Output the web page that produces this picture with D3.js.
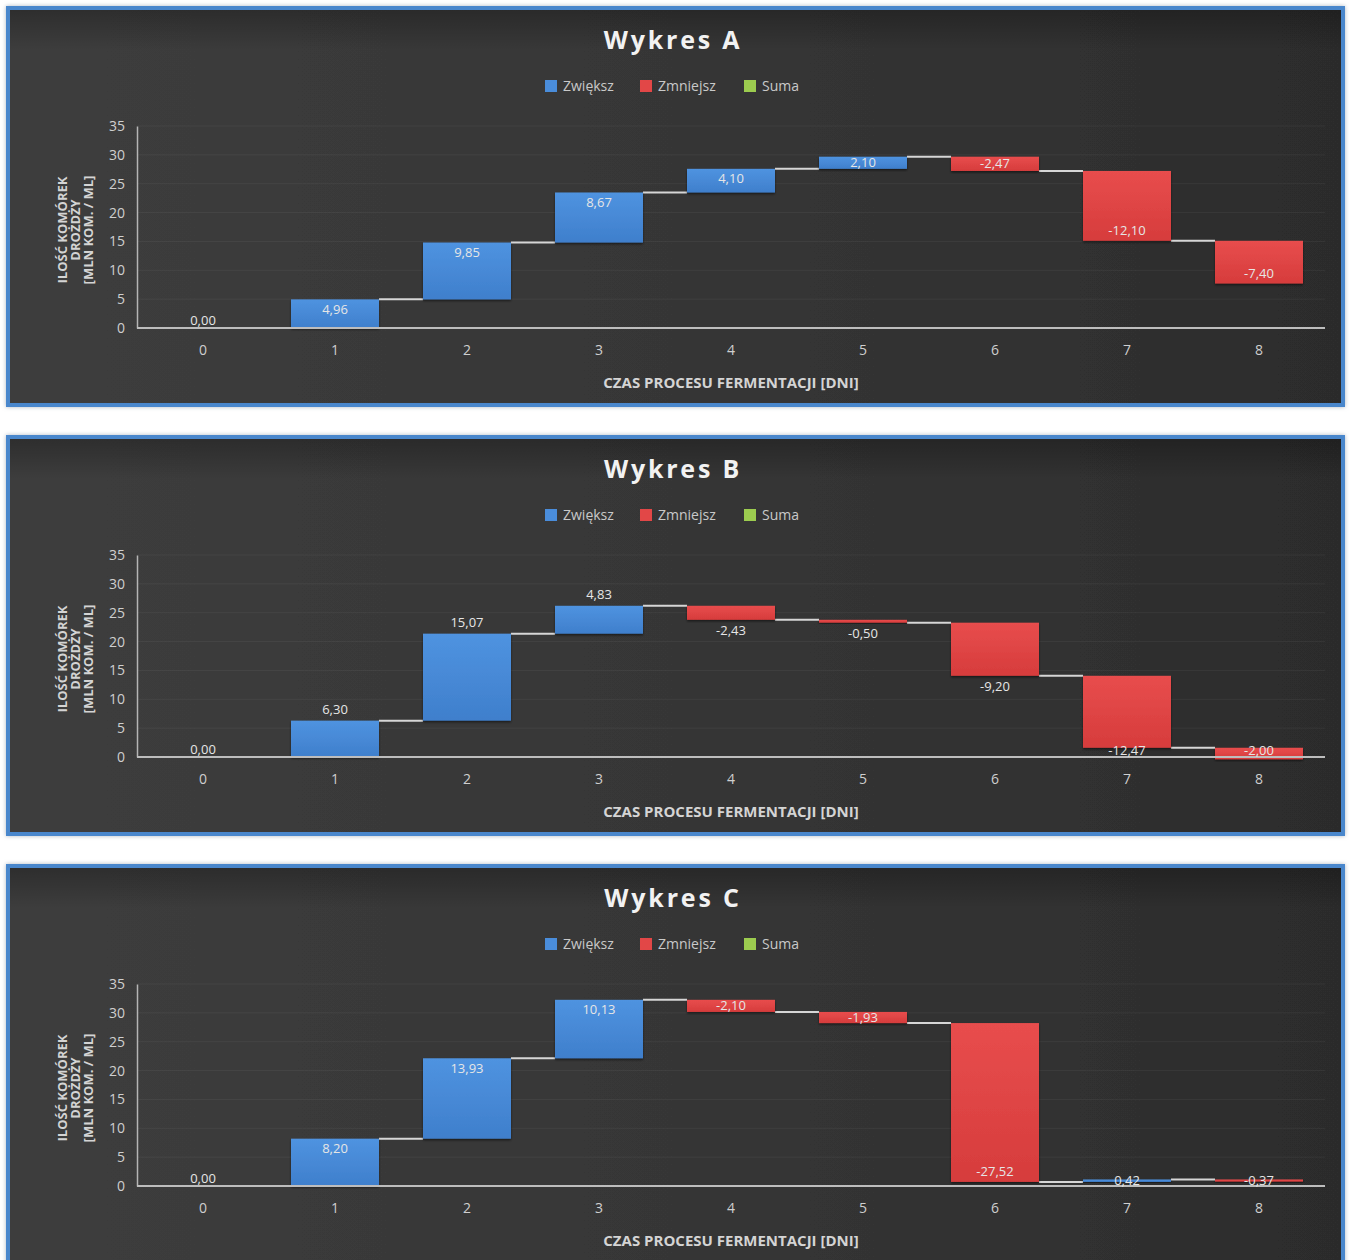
<!DOCTYPE html>
<html>
<head>
<meta charset="utf-8">
<script src="https://cdn.jsdelivr.net/npm/d3@7"></script>
<style>
  html, body { margin: 0; padding: 0; background: #ffffff; }
  svg { display: block; }
  text { font-family: "Open Sans", Lato, sans-serif; }
</style>
</head>
<body>
<svg id="chart" width="1349" height="1260"></svg>
<script>
// Fermentation days (categories)
const days = ["0", "1", "2", "3", "4", "5", "6", "7", "8"];

// Daily change in yeast cell count [mln cells / ml]
const seriesA = [0.00, 4.96, 9.85, 8.67, 4.10, 2.10, -2.47, -12.10, -7.40];
const seriesB = [0.00, 6.30, 15.07, 4.83, -2.43, -0.50, -9.20, -12.47, -2.00];
const seriesC = [0.00, 8.20, 13.93, 10.13, -2.10, -1.93, -27.52, 0.42, -0.37];

const yTicks = [0, 5, 10, 15, 20, 25, 30, 35];
const legendLabels = ["Zwiększ", "Zmniejsz", "Suma"];
const chartTitles = ["Wykres A", "Wykres B", "Wykres C"];
const yTitleLines = ["ILOŚĆ KOMÓREK", "DROŻDŻY", "[MLN KOM. / ML]"];
const xTitle = "CZAS PROCESU FERMENTACJI [DNI]";

const panels = [
  { title: chartTitles[0], values: seriesA, labelMode: "inside" },
  { title: chartTitles[1], values: seriesB, labelMode: "outside" },
  { title: chartTitles[2], values: seriesC, labelMode: "inside" }
];

const colors = { up: "#4a8ddb", down: "#e24747", total: "#9ccc4f" };
const fmt = v => d3.format(".2f")(v).replace(".", ",").replace("−", "-");

const svg = d3.select("#chart");
const defs = svg.append("defs");

const bg = defs.append("linearGradient").attr("id", "panelBg")
  .attr("x1", "0%").attr("x2", "100%").attr("y1", "0%").attr("y2", "0%");
bg.append("stop").attr("offset", "0%").attr("stop-color", "#3d3d3d");
bg.append("stop").attr("offset", "50%").attr("stop-color", "#363636");
bg.append("stop").attr("offset", "100%").attr("stop-color", "#2c2c2c");

const topShade = defs.append("linearGradient").attr("id", "topShade")
  .attr("x1", "0%").attr("x2", "0%").attr("y1", "0%").attr("y2", "100%");
topShade.append("stop").attr("offset", "0%").attr("stop-color", "#000").attr("stop-opacity", 0.25);
topShade.append("stop").attr("offset", "100%").attr("stop-color", "#000").attr("stop-opacity", 0);

function barGradient(id, light, dark) {
  const g = defs.append("linearGradient").attr("id", id)
    .attr("x1", "0%").attr("x2", "0%").attr("y1", "0%").attr("y2", "100%");
  g.append("stop").attr("offset", "0%").attr("stop-color", light);
  g.append("stop").attr("offset", "100%").attr("stop-color", dark);
}
barGradient("gUp", "#4f93e0", "#3f7fcc");
barGradient("gDown", "#e84d4d", "#d63c3c");

const shadow = defs.append("filter").attr("id", "barShadow")
  .attr("x", "-10%").attr("y", "-10%").attr("width", "120%").attr("height", "130%");
shadow.append("feDropShadow").attr("dx", 0).attr("dy", 1.5).attr("stdDeviation", 1.2)
  .attr("flood-color", "#000").attr("flood-opacity", 0.55);

const glow = defs.append("filter").attr("id", "frameGlow")
  .attr("x", "-2%").attr("y", "-5%").attr("width", "104%").attr("height", "110%");
glow.append("feDropShadow").attr("dx", 0).attr("dy", 0).attr("stdDeviation", 2)
  .attr("flood-color", "#9aa6b4").attr("flood-opacity", 0.8);

const plotLeft = 137, plotRight = 1325;

panels.forEach((p, i) => {
  const oy = 8 + i * 429;
  const g = svg.append("g");

  // frame and background
  g.append("rect").attr("x", 8).attr("y", oy).attr("width", 1335).attr("height", 397)
    .attr("fill", "url(#panelBg)").attr("stroke", "#4a87cc").attr("stroke-width", 4)
    .attr("filter", "url(#frameGlow)");
  g.append("rect").attr("x", 10).attr("y", oy + 2).attr("width", 1331).attr("height", 40)
    .attr("fill", "url(#topShade)");

  // title
  g.append("text").attr("x", 673).attr("y", oy + 41)
    .attr("text-anchor", "middle").attr("fill", "#f2f2f2")
    .attr("font-size", 25).attr("font-weight", 700).attr("letter-spacing", 2.8)
    .text(p.title);

  // legend
  const legendItems = [
    { label: legendLabels[0], color: colors.up, x: 545 },
    { label: legendLabels[1], color: colors.down, x: 640 },
    { label: legendLabels[2], color: colors.total, x: 744 }
  ];
  const lg = g.append("g");
  legendItems.forEach(it => {
    lg.append("rect").attr("x", it.x).attr("y", oy + 72).attr("width", 12).attr("height", 12)
      .attr("fill", it.color);
    lg.append("text").attr("x", it.x + 18).attr("y", oy + 83)
      .attr("fill", "#c9c9c9").attr("font-size", 14).text(it.label);
  });

  // scales
  const x = d3.scaleBand().domain(days).range([plotLeft, plotRight])
    .paddingInner(1 / 3).paddingOuter(1 / 6);
  const y = d3.scaleLinear().domain([0, 35]).range([oy + 320, oy + 118]);
  const y0 = y(0);

  // gridlines
  g.append("g").selectAll("line").data(yTicks.filter(t => t > 0)).join("line")
    .attr("x1", plotLeft).attr("x2", plotRight)
    .attr("y1", d => y(d)).attr("y2", d => y(d))
    .attr("stroke", "#ffffff").attr("stroke-opacity", 0.05).attr("stroke-width", 1);

  // y axis
  const yAxis = g.append("g").attr("transform", `translate(${plotLeft},0)`)
    .call(d3.axisLeft(y).tickValues(yTicks).tickSize(0).tickPadding(12));
  yAxis.select(".domain").attr("stroke", "#b5b5b5").attr("stroke-width", 1.5);
  yAxis.selectAll("text").attr("fill", "#cfcfcf").attr("font-size", 14)
    .attr("font-family", "Lato, sans-serif");

  // waterfall geometry
  let cum = 0;
  const steps = p.values.map((v, k) => {
    const start = cum;
    cum += v;
    return { day: days[k], value: v, start, end: cum };
  });

  // connectors
  g.append("g").selectAll("line").data(steps.slice(0, -1)).join("line")
    .attr("x1", (d) => x(d.day) + x.bandwidth())
    .attr("x2", (d, k) => x(days[k + 1]))
    .attr("y1", d => y(d.end)).attr("y2", d => y(d.end))
    .attr("stroke", "#d6d6d6").attr("stroke-width", 2);

  // bars
  g.append("g").selectAll("rect").data(steps.filter(d => d.value !== 0)).join("rect")
    .attr("x", d => x(d.day)).attr("width", x.bandwidth())
    .attr("y", d => y(Math.max(d.start, d.end)))
    .attr("height", d => Math.abs(y(d.start) - y(d.end)))
    .attr("fill", d => d.value > 0 ? "url(#gUp)" : "url(#gDown)")
    .attr("filter", "url(#barShadow)");

  // x axis
  const xAxis = g.append("g").attr("transform", `translate(0,${y0})`)
    .call(d3.axisBottom(x).tickSize(0).tickPadding(17));
  xAxis.select(".domain").attr("stroke", "#bdbdbd").attr("stroke-width", 2)
    .attr("d", `M${plotLeft},0H${plotRight}`);
  xAxis.selectAll("text").attr("fill", "#cfcfcf").attr("font-size", 14)
    .attr("font-family", "Lato, sans-serif");

  // value labels
  function labelY(d) {
    const top = y(Math.max(d.start, d.end));
    const bottom = y(Math.min(d.start, d.end));
    const h = bottom - top;
    if (d.value === 0) return y0 - 8;
    if (p.labelMode === "outside") {
      const ly = d.value > 0 ? top - 11 : bottom + 11;
      return Math.min(ly, y0 - 7);
    }
    if (h < 22) return (top + bottom) / 2;
    return d.value > 0 ? top + 10 : bottom - 10;
  }
  g.append("g").selectAll("text").data(steps).join("text")
    .attr("x", d => x(d.day) + x.bandwidth() / 2)
    .attr("y", d => labelY(d))
    .attr("dy", "0.35em").attr("text-anchor", "middle")
    .attr("fill", "#e6e6e6").attr("font-size", 13).attr("font-family", "Lato, sans-serif")
    .text(d => fmt(d.value));

  // axis titles
  const yt = g.append("text").attr("transform", `translate(75,${oy + 222}) rotate(-90)`)
    .attr("text-anchor", "middle").attr("fill", "#d4d4d4")
    .attr("font-size", 13).attr("font-weight", 700);
  yTitleLines.forEach((line, k) => {
    yt.append("tspan").attr("x", 0).attr("y", (k - 1) * 13).attr("dy", "0.35em").text(line);
  });

  g.append("text").attr("x", (plotLeft + plotRight) / 2).attr("y", oy + 375)
    .attr("dy", "0.35em").attr("text-anchor", "middle").attr("fill", "#d4d4d4")
    .attr("font-size", 15).attr("font-weight", 700).text(xTitle);
});
</script>
</body>
</html>
